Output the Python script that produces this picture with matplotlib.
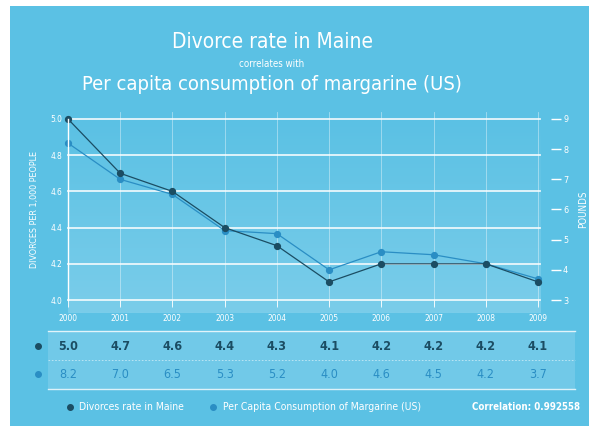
import numpy as np
import matplotlib
matplotlib.use("Agg")
import matplotlib.pyplot as plt
import matplotlib.transforms as mtransforms
from matplotlib.patches import Rectangle

# data
years = [2000, 2001, 2002, 2003, 2004, 2005, 2006, 2007, 2008, 2009]
divorce = [5.0, 4.7, 4.6, 4.4, 4.3, 4.1, 4.2, 4.2, 4.2, 4.1]
margarine = [8.2, 7.0, 6.5, 5.3, 5.2, 4.0, 4.6, 4.5, 4.2, 3.7]
left_ticks = [4.0, 4.2, 4.4, 4.6, 4.8, 5.0]
right_ticks = [3, 4, 5, 6, 7, 8, 9]
correlation = "0.992558"

plt.rcParams['font.family'] = ['DejaVu Sans']
plt.rcParams['font.stretch'] = 'condensed'

bg = "#5bc1e4"
dark = "#1b4d63"
light = "#2a8ec4"
white = "white"

W, H = 589, 426
fig = plt.figure(figsize=(W/100, H/100), dpi=100)
fig.patch.set_facecolor("white")
fig.add_artist(Rectangle((10/W, 0), 1, 1 - 6/H, transform=fig.transFigure,
                         facecolor=bg, edgecolor="none", zorder=-10))

def fx(px): return px / W
def fy(py): return 1 - py / H

pos = [fx(68), fy(300), fx(538) - fx(68), fy(119) - fy(300)]

# background axes: gradient + grid
axbg = fig.add_axes(pos, zorder=0)
axbg.set_facecolor("none")
grad = np.linspace(0, 1, 100).reshape(-1, 1)
cm = matplotlib.colors.LinearSegmentedColormap.from_list("g", ["#5bc1e4", "#7acdea"])
axbg.imshow(grad, extent=[2000, 2009.05, 3.93, 5.0], aspect="auto", cmap=cm,
            origin="upper", zorder=0, clip_on=False)
axbg.set_xlim(2000, 2009)
axbg.set_ylim(4.0, 5.0)
for t in left_ticks:
    axbg.axhline(t, color=white, lw=1.3, alpha=0.85, zorder=1, xmax=1.005, clip_on=False)
for yr in years[1:]:
    axbg.axvline(yr, color=white, lw=0.6, alpha=0.45, zorder=1, ymin=-0.03, ymax=1.04, clip_on=False)
axbg.axis("off")

# margarine axes
ax2 = fig.add_axes(pos, zorder=1)
ax2.patch.set_visible(False)
ax2.set_xlim(2000, 2009)
ax2.set_ylim(3, 9)
ax2.yaxis.tick_right()
ax2.yaxis.set_label_position("right")
ax2.set_yticks(right_ticks)
ax2.set_yticklabels([str(t) for t in right_ticks])
for s in ["top", "left", "bottom"]:
    ax2.spines[s].set_visible(False)
ax2.spines["right"].set_position(("outward", 9))
ax2.spines["right"].set_visible(False)
ax2.tick_params(axis="y", colors=white, labelsize=6.5, length=7, width=1.0, pad=2)
ax2.set_xticks([])
ax2.set_ylabel("POUNDS", color=white, fontsize=7, labelpad=7)
ax2.plot(years, margarine, color=light, lw=0.9, marker="o", ms=4.2, clip_on=False)

# divorce axes
ax = fig.add_axes(pos, zorder=2)
ax.patch.set_visible(False)
ax.set_xlim(2000, 2009)
ax.set_ylim(4.0, 5.0)
for s in ["top", "right", "bottom"]:
    ax.spines[s].set_visible(False)
ax.spines["left"].set_color(white)
ax.spines["left"].set_linewidth(1.0)
ax.set_yticks(left_ticks)
ax.set_yticklabels(["%.1f" % t for t in left_ticks])
ax.tick_params(axis="y", colors=white, labelsize=6, length=0, pad=4)
ax.set_xticks(years)
ax.set_xticklabels([str(y) for y in years])
ax.tick_params(axis="x", colors=white, labelsize=6, length=5, width=0.6, pad=5)
ax.set_ylabel("DIVORCES PER 1,000 PEOPLE", color=white, fontsize=6.5, labelpad=8)
ax.plot(years, divorce, color=dark, lw=0.9, marker="o", ms=4.2, clip_on=False)

# table
tr = mtransforms.blended_transform_factory(ax.transData, fig.transFigure)
fig.add_artist(Rectangle((fx(48), fy(389)), fx(575) - fx(48), fy(331) - fy(389),
                         transform=fig.transFigure, facecolor="#80cfeb",
                         edgecolor="none", alpha=0.6, zorder=-5))
fig.add_artist(plt.Line2D([fx(48), fx(575)], [fy(331), fy(331)], color=white, lw=1.0, alpha=0.8))
fig.add_artist(plt.Line2D([fx(48), fx(575)], [fy(389), fy(389)], color=white, lw=1.0, alpha=0.8))
fig.add_artist(plt.Line2D([fx(48), fx(575)], [fy(360), fy(360)], color=white, lw=0.6,
                          alpha=0.6, ls=(0, (2, 2))))
for yr, d, m in zip(years, divorce, margarine):
    fig.text(yr, fy(346), "%.1f" % d, transform=tr, ha="center", va="center",
             color=dark, fontsize=9, fontweight="bold")
    fig.text(yr, fy(374), "%.1f" % m, transform=tr, ha="center", va="center",
             color=light, fontsize=9)
fig.add_artist(plt.Line2D([fx(38)], [fy(346)], marker="o", ms=4, color=dark, lw=0))
fig.add_artist(plt.Line2D([fx(38)], [fy(374)], marker="o", ms=4, color=light, lw=0))

# legend
fig.add_artist(plt.Line2D([fx(70)], [fy(407)], marker="o", ms=4, color=dark, lw=0))
fig.text(fx(79), fy(407), "Divorces rate in Maine", color=white, fontsize=7.5, va="center")
fig.add_artist(plt.Line2D([fx(213)], [fy(407)], marker="o", ms=4, color=light, lw=0))
fig.text(fx(223), fy(407), "Per Capita Consumption of Margarine (US)", color=white,
         fontsize=7.5, va="center")
fig.text(fx(580), fy(407), "Correlation: " + correlation, color=white, fontsize=7,
         va="center", ha="right", fontweight="bold")

# titles
fig.text(fx(272), fy(42), "Divorce rate in Maine", color=white, fontsize=15,
         ha="center", va="center")
fig.text(fx(272), fy(64), "correlates with", color=white, fontsize=7,
         ha="center", va="center")
fig.text(fx(272), fy(85), "Per capita consumption of margarine (US)", color=white,
         fontsize=14.5, ha="center", va="center")

fig.savefig("out.png", dpi=100, facecolor=fig.get_facecolor())
